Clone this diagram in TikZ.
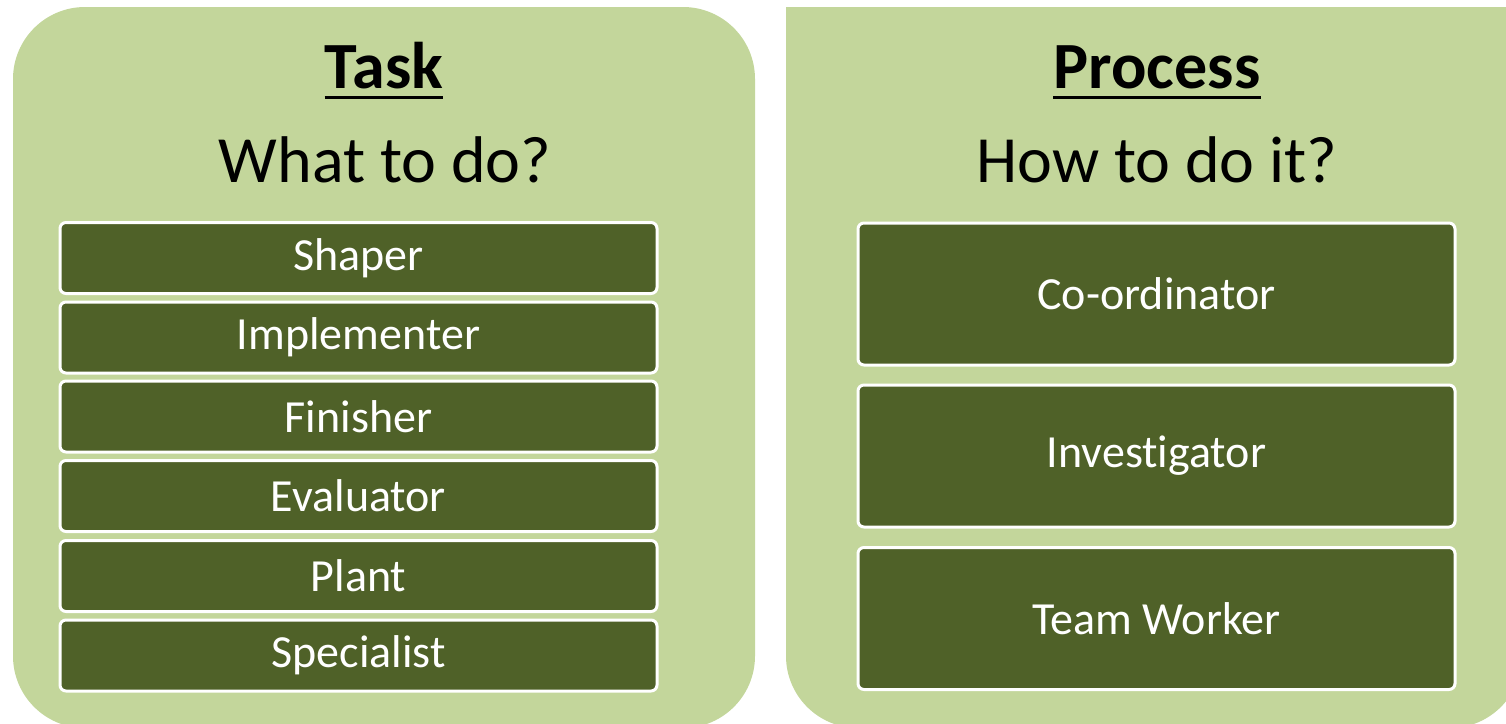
\documentclass[tikz,border=0pt]{standalone}
\usepackage{fontspec}
\setmainfont{Carlito}[RawFeature={-liga;-calt;-dlig;-clig}]
\definecolor{panelgreen}{HTML}{C3D69B}
\definecolor{boxgreen}{HTML}{4F6128}
\begin{document}
\begin{tikzpicture}[x=1pt,y=-1pt,
  panel/.style={fill=panelgreen},
  rolebox/.style={draw=white, line width=3pt, fill=boxgreen, rounded corners=6pt,
    minimum width=597pt, text=white, inner sep=0pt,
    font=\fontsize{46}{50}\selectfont},
  smallrole/.style={rolebox, minimum height=71pt},
  bigrole/.style={rolebox, minimum height=142pt},
  heading/.style={anchor=base, inner sep=0pt, font=\fontsize{66}{70}\selectfont\bfseries},
  question/.style={anchor=base, inner sep=0pt, font=\fontsize{66}{70}\selectfont},
  underline/.style={line width=3pt}
]
\useasboundingbox (0,0) rectangle (1506,723);
% panels
\fill[panel, rounded corners=72pt] (13,7) rectangle (755,728);
\fill[panel, rounded corners=72pt] (786,7) rectangle (1522,728);
\fill[panel] (786,7) rectangle (1522,400);
% headings
\node[heading] (task) at (384,88) {Task};
\draw[underline] ([yshift=-9pt]task.base west) -- ([yshift=-9pt]task.base east);
\node[question] (what) at (385,182) {What to do?};
\node[heading] (process) at (1157,88) {Process};
\draw[underline] ([yshift=-9pt]process.base west) -- ([yshift=-9pt]process.base east);
\node[question] (how) at (1157,182) {How to do it?};
% task roles
\node[smallrole] (shaper) at (358.5,258) {Shaper};
\node[smallrole] (impl) at (358.5,337.5) {Implementer};
\node[smallrole] (finisher) at (358.5,416.5) {Finisher};
\node[smallrole] (evaluator) at (358.5,496) {Evaluator};
\node[smallrole] (plant) at (358.5,576) {Plant};
\node[smallrole] (specialist) at (358.5,655.5) {Specialist};
% process roles
\node[bigrole] (coord) at (1156.5,294) {Co-ordinator};
\node[bigrole] (invest) at (1156.5,456) {Investigator};
\node[bigrole] (team) at (1156.5,618.5) {Team Worker};
\end{tikzpicture}
\end{document}
